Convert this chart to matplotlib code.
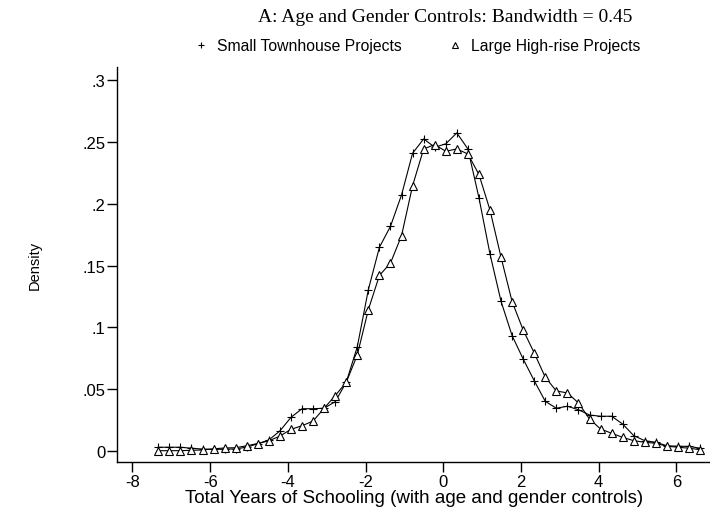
import numpy as np
import matplotlib
matplotlib.use("Agg")
import matplotlib.pyplot as plt
from matplotlib.ticker import FixedLocator, FixedFormatter

# ---- data ----
x_start = -7.336
x_step = 0.2846
n_points = 50
x_grid = x_start + x_step * np.arange(n_points)

small_townhouse = [
    0.0028, 0.0028, 0.0028, 0.0020, 0.0013, 0.0011, 0.0012, 0.0014, 0.0029, 0.0056,
    0.0087, 0.0160, 0.0270, 0.0340, 0.0340, 0.0344, 0.0397, 0.0554, 0.0843, 0.1305,
    0.1648, 0.1818, 0.2072, 0.2410, 0.2526, 0.2459, 0.2486, 0.2575, 0.2445, 0.2050,
    0.1594, 0.1210, 0.0932, 0.0743, 0.0567, 0.0400, 0.0344, 0.0360, 0.0332, 0.0289,
    0.0279, 0.0279, 0.0216, 0.0122, 0.0081, 0.0068, 0.0040, 0.0036, 0.0035, 0.0020,
]
large_highrise = [
    0.0000, 0.0000, 0.0000, 0.0003, 0.0006, 0.0015, 0.0022, 0.0024, 0.0040, 0.0058,
    0.0080, 0.0118, 0.0173, 0.0202, 0.0240, 0.0344, 0.0446, 0.0554, 0.0776, 0.1143,
    0.1420, 0.1520, 0.1742, 0.2147, 0.2445, 0.2480, 0.2426, 0.2445, 0.2404, 0.2238,
    0.1950, 0.1567, 0.1208, 0.0978, 0.0792, 0.0595, 0.0484, 0.0468, 0.0387, 0.0257,
    0.0176, 0.0141, 0.0108, 0.0081, 0.0068, 0.0060, 0.0036, 0.0028, 0.0020, 0.0008,
]
series_labels = ["Small Townhouse Projects", "Large High-rise Projects"]
x_ticks = [-8, -6, -4, -2, 0, 2, 4, 6]
x_tick_labels = ["-8", "-6", "-4", "-2", "0", "2", "4", "6"]
y_ticks = [0, 0.05, 0.1, 0.15, 0.2, 0.25, 0.3]
y_tick_labels = ["0", ".05", ".1", ".15", ".2", ".25", ".3"]
title = "A: Age and Gender Controls: Bandwidth = 0.45"
x_label = "Total Years of Schooling (with age and gender controls)"
y_label = "Density"

# ---- figure ----
plt.rcParams['font.family'] = ['Liberation Sans', 'DejaVu Sans']
fig = plt.figure(figsize=(7.1, 5.1), dpi=100)
ax = fig.add_axes([0.1652, 0.0916, 0.8348, 0.7751])

l1, = ax.plot(x_grid, small_townhouse, color='black', lw=0.8,
              marker='+', markersize=5.5, mew=0.8)
l2, = ax.plot(x_grid, large_highrise, color='black', lw=0.8,
              marker='^', markersize=5.5, mfc='white', mec='black', mew=0.8)

ax.set_xlim(-8.391, 6.865)
ax.set_ylim(-0.0094, 0.3109)

for s in ['top', 'right']:
    ax.spines[s].set_visible(False)
for s in ['left', 'bottom']:
    ax.spines[s].set_linewidth(1.0)

ax.xaxis.set_major_locator(FixedLocator(x_ticks))
ax.xaxis.set_major_formatter(FixedFormatter(x_tick_labels))
ax.yaxis.set_major_locator(FixedLocator(y_ticks))
ax.yaxis.set_major_formatter(FixedFormatter(y_tick_labels))
ax.tick_params(axis='both', direction='out', length=7, width=1.0,
               labelsize=12, pad=1.5)

ax.set_xlabel(x_label, fontsize=13.5, labelpad=0)
ax.set_ylabel(y_label, fontsize=10.5, labelpad=29)

fig.text(0.627, 0.966, title, ha='center', va='center', fontsize=14,
         family=['Liberation Serif', 'DejaVu Serif'])

fig.legend([l1, l2], series_labels, loc='center', ncol=2, frameon=False,
           bbox_to_anchor=(0.588, 0.908), fontsize=11.3, handlelength=0.8,
           columnspacing=3.0, handletextpad=0.6)
# show only markers in legend
leg = fig.legends[0]
for h in leg.legend_handles:
    h.set_linestyle('none')
    h.set_markersize(4)

fig.savefig("out.png", dpi=100)
